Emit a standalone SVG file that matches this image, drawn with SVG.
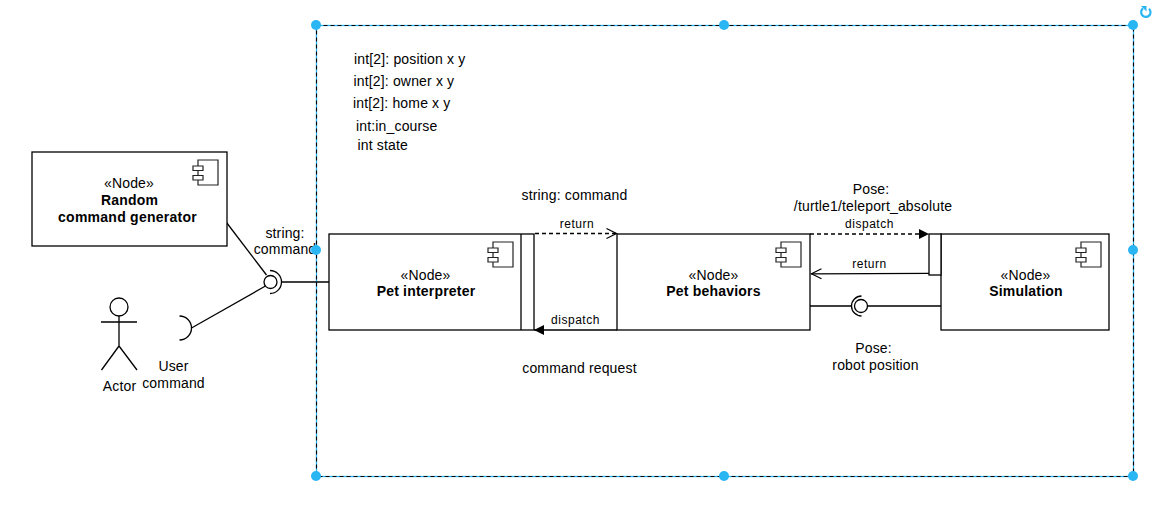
<svg xmlns="http://www.w3.org/2000/svg" width="1171" height="515" viewBox="0 0 1171 515">
<defs>
<style>
text{font-family:"Liberation Sans",Arial,sans-serif;font-size:14px;fill:#000;text-anchor:middle;letter-spacing:.16px}
.sm{font-size:12px;letter-spacing:.55px}
.b{font-weight:bold;letter-spacing:.2px}
.s{text-anchor:start}
.box{fill:#fff;stroke:#000;stroke-width:1.3}
.ln{fill:none;stroke:#000;stroke-width:1.3}
.dash{stroke-dasharray:4 3}
.ic{fill:#fff;stroke:#222;stroke-width:1.2}
.h{fill:#29b6f2}
</style>
<g id="ci"><path class="ic" d="M-20 -13H0V12H-20Z"/><path class="ic" d="M-25 -7H-15V-2.500H-25ZM-25 2.500H-15V7H-25Z"/></g>
<marker id="open" markerWidth="14" markerHeight="14" refX="11.500" refY="6" orient="auto" markerUnits="userSpaceOnUse"><path d="M1 1L11 6L1 11" fill="none" stroke="#000" stroke-width="1.2"/></marker>
<marker id="solid" markerWidth="14" markerHeight="14" refX="10" refY="6" orient="auto" markerUnits="userSpaceOnUse"><path d="M0 1L10 6L0 11Z" fill="#000"/></marker>
</defs>
<rect width="1171" height="515" fill="#fff"/>

<g id="selection">
<rect x="316.500" y="25.500" width="817" height="451" fill="none" stroke="#29b6f2" stroke-width="1.3"/>
<rect x="316.500" y="25.500" width="817" height="451" fill="none" stroke="#000" stroke-width="1.1" stroke-dasharray="4 3"/>
</g>

<g id="connectors">
<path class="ln" d="M226.500 222.500L266.500 275"/>
<path class="ln" d="M191.500 328L265.500 286"/>
<path class="ln" d="M282 282H329"/>
<path class="ln dash" d="M535 233.500H617" marker-end="url(#open)"/>
<path class="ln" d="M617 330H534" marker-end="url(#solid)"/>
<path class="ln dash" d="M810 234H929" marker-end="url(#solid)"/>
<path class="ln" d="M929 273.300L811 273.800" marker-end="url(#open)"/>
<path class="ln" d="M810 306H852M868 306H941"/>
</g>

<g id="random-command-generator">
<rect class="box" x="32" y="152" width="195" height="94"/>
<use href="#ci" x="218" y="173"/>
<text x="129" y="188">«Node»</text>
<text class="b" x="129.500" y="205">Random</text>
<text class="b" x="127.500" y="222" style="letter-spacing:.25px">command generator</text>
</g>

<g id="pet-interpreter">
<rect class="box" x="329" y="234" width="205" height="96"/>
<path class="ln" d="M521 234V330"/>
<use href="#ci" x="513" y="255"/>
<text x="425.500" y="280">«Node»</text>
<text class="b" x="426" y="296">Pet interpreter</text>
</g>

<g id="pet-behaviors">
<rect class="box" x="617" y="234" width="193" height="96"/>
<use href="#ci" x="801" y="255"/>
<text x="713.500" y="280">«Node»</text>
<text class="b" x="713.500" y="296">Pet behaviors</text>
</g>

<g id="simulation">
<rect class="box" x="941" y="234" width="168" height="96"/>
<rect class="box" x="929" y="234" width="12" height="41"/>
<use href="#ci" x="1101" y="255"/>
<text x="1025.500" y="280">«Node»</text>
<text class="b" x="1026" y="296">Simulation</text>
</g>

<g id="actor">
<circle class="ln" cx="119" cy="307" r="9"/>
<path class="ln" d="M119 316V346M101 322H137M119 346L101.500 370M119 346L137 370"/>
<text x="119.500" y="391">Actor</text>
</g>

<g id="interfaces">
<circle class="ln" cx="270.500" cy="282" r="6.500"/>
<path class="ln" d="M270 270.500A11.500 11.500 0 0 1 270 293.500"/>
<path class="ln" d="M179.500 316A12 12 0 0 1 179.500 340"/>
<circle class="ln" cx="861" cy="306" r="6.500"/>
<path class="ln" d="M861.500 296A10 10 0 0 0 861.500 316"/>
</g>

<g id="labels">
<text x="285" y="238">string:</text>
<text x="285" y="254">command</text>
<text x="173.500" y="371">User</text>
<text x="173.500" y="388">command</text>
<text class="s" x="354" y="64">int[2]: position x y</text>
<text class="s" x="353.500" y="86">int[2]: owner x y</text>
<text class="s" x="353" y="108">int[2]: home x y</text>
<text class="s" x="356" y="131">int:in_course</text>
<text class="s" x="357.500" y="150">int state</text>
<text x="574.500" y="200">string: command</text>
<text class="sm" x="577" y="228">return</text>
<text class="sm" x="575.500" y="324">dispatch</text>
<text x="579.500" y="373">command request</text>
<text x="871" y="194">Pose:</text>
<text x="873" y="211">/turtle1/teleport_absolute</text>
<text class="sm" x="869.500" y="228">dispatch</text>
<text class="sm" x="869.500" y="268">return</text>
<text x="873.500" y="353">Pose:</text>
<text x="875.500" y="370">robot position</text>
</g>

<g id="handles">
<circle class="h" cx="316" cy="25" r="5"/>
<circle class="h" cx="724" cy="25" r="5"/>
<circle class="h" cx="1133" cy="25" r="5"/>
<circle class="h" cx="316" cy="250" r="5"/>
<circle class="h" cx="1133" cy="250" r="5"/>
<circle class="h" cx="316" cy="476" r="5"/>
<circle class="h" cx="724" cy="476" r="5"/>
<circle class="h" cx="1133" cy="476" r="5"/>
<path d="M1143 8.500A4.700 4.700 0 1 0 1149 8.800" fill="none" stroke="#29b6f2" stroke-width="2.200"/>
<path d="M1141 6L1146.500 6L1146.500 11.500Z" fill="#29b6f2"/>
</g>
</svg>
